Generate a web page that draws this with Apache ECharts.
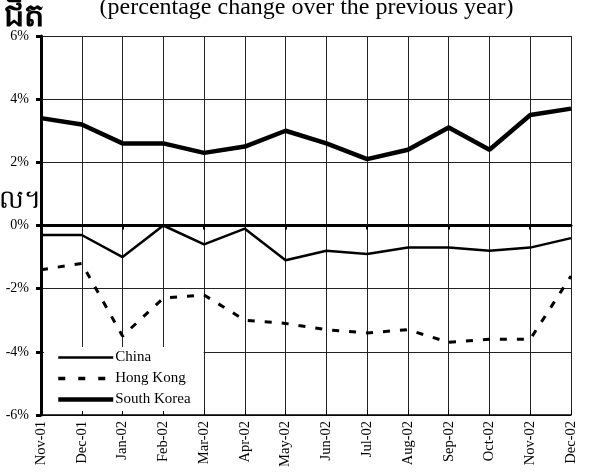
<!DOCTYPE html>
<html><head><meta charset="utf-8">
<script src="https://cdn.jsdelivr.net/npm/echarts@6/dist/echarts.min.js"></script>
<style>html,body{margin:0;padding:0;background:#fff}#c{width:613px;height:472px}</style>
</head><body><div id="c"></div>
<script>
const categories = ['Nov-01','Dec-01','Jan-02','Feb-02','Mar-02','Apr-02','May-02','Jun-02','Jul-02','Aug-02','Sep-02','Oct-02','Nov-02','Dec-02'];
const china = [-0.3,-0.3,-1.0,0.0,-0.6,-0.1,-1.1,-0.8,-0.9,-0.7,-0.7,-0.8,-0.7,-0.4];
const hongKong = [-1.4,-1.2,-3.5,-2.3,-2.2,-3.0,-3.1,-3.3,-3.4,-3.3,-3.7,-3.6,-3.6,-1.6];
const southKorea = [3.4,3.2,2.6,2.6,2.3,2.5,3.0,2.6,2.1,2.4,3.1,2.4,3.5,3.7];
const titleText = '(percentage change over the previous year)';
const khmerTop = 'ជិត';
const khmerSideA = 'ល';
const khmerSideB = '។';

const serif = '"Liberation Serif","Times New Roman",serif';
const chart = echarts.init(document.getElementById('c'), null, {renderer:'canvas'});
chart.setOption({
  animation:false,
  backgroundColor:'#fff',
  grid:{left:41,right:42,top:36,bottom:57},
  graphic:[
    {type:'text',left:'center',top:-4,style:{text:titleText,font:'24px '+serif,fill:'#000'}},
    {type:'text',left:4,top:1,style:{text:khmerTop,font:'bold 32px sans-serif',fill:'#000'}},
    {type:'text',left:-1,top:188,style:{text:khmerSideA,font:'26px sans-serif',fill:'#000'}},
    {type:'text',left:24,top:188,style:{text:khmerSideB,font:'26px sans-serif',fill:'#000'}}
  ],
  legend:{
    left:44,top:347,orient:'vertical',
    backgroundColor:'#fff',padding:[3,13,4,12],
    itemWidth:55,itemHeight:14,itemGap:6,
    itemStyle:{opacity:0},
    textStyle:{fontFamily:serif,fontSize:15,color:'#000',padding:[0,0,0,-3]},
    data:[
      {name:'China',lineStyle:{width:2.5}},
      {name:'Hong Kong',lineStyle:{width:3.5,type:[7,13]}},
      {name:'South Korea',lineStyle:{width:4.5}}
    ]
  },
  xAxis:[
    {type:'category',data:categories,boundaryGap:false,position:'bottom',
     axisLine:{onZero:false,lineStyle:{color:'#000',width:1.5}},
     axisTick:{inside:true,length:5,lineStyle:{color:'#000',width:1}},
     axisLabel:{rotate:90,fontFamily:serif,fontSize:14.5,color:'#000',margin:6,interval:0},
     splitLine:{show:true,lineStyle:{color:'#222',width:1}}},
    {type:'category',data:categories,boundaryGap:false,position:'bottom',
     axisLine:{onZero:true,lineStyle:{color:'#000',width:3}},
     axisTick:{inside:false,length:4,lineStyle:{color:'#000',width:2}},
     axisLabel:{show:false},splitLine:{show:false}}
  ],
  yAxis:{type:'value',min:-6,max:6,interval:2,
    axisLine:{show:true,lineStyle:{color:'#000',width:3}},
    axisTick:{show:true,length:5,lineStyle:{color:'#000',width:3}},
    axisLabel:{formatter:'{value}%',fontFamily:serif,fontSize:14,color:'#000',margin:12},
    splitLine:{show:true,lineStyle:{color:'#222',width:1}}
  },
  series:[
    {name:'China',type:'line',data:china,symbol:'none',z:3,
     lineStyle:{color:'#000',width:2.5},itemStyle:{color:'#000'}},
    {name:'Hong Kong',type:'line',data:hongKong,symbol:'none',z:3,
     lineStyle:{color:'#000',width:3,type:[7,10]},itemStyle:{color:'#000'}},
    {name:'South Korea',type:'line',data:southKorea,symbol:'none',z:3,
     lineStyle:{color:'#000',width:4.5},itemStyle:{color:'#000'}}
  ]
});
</script></body></html>
